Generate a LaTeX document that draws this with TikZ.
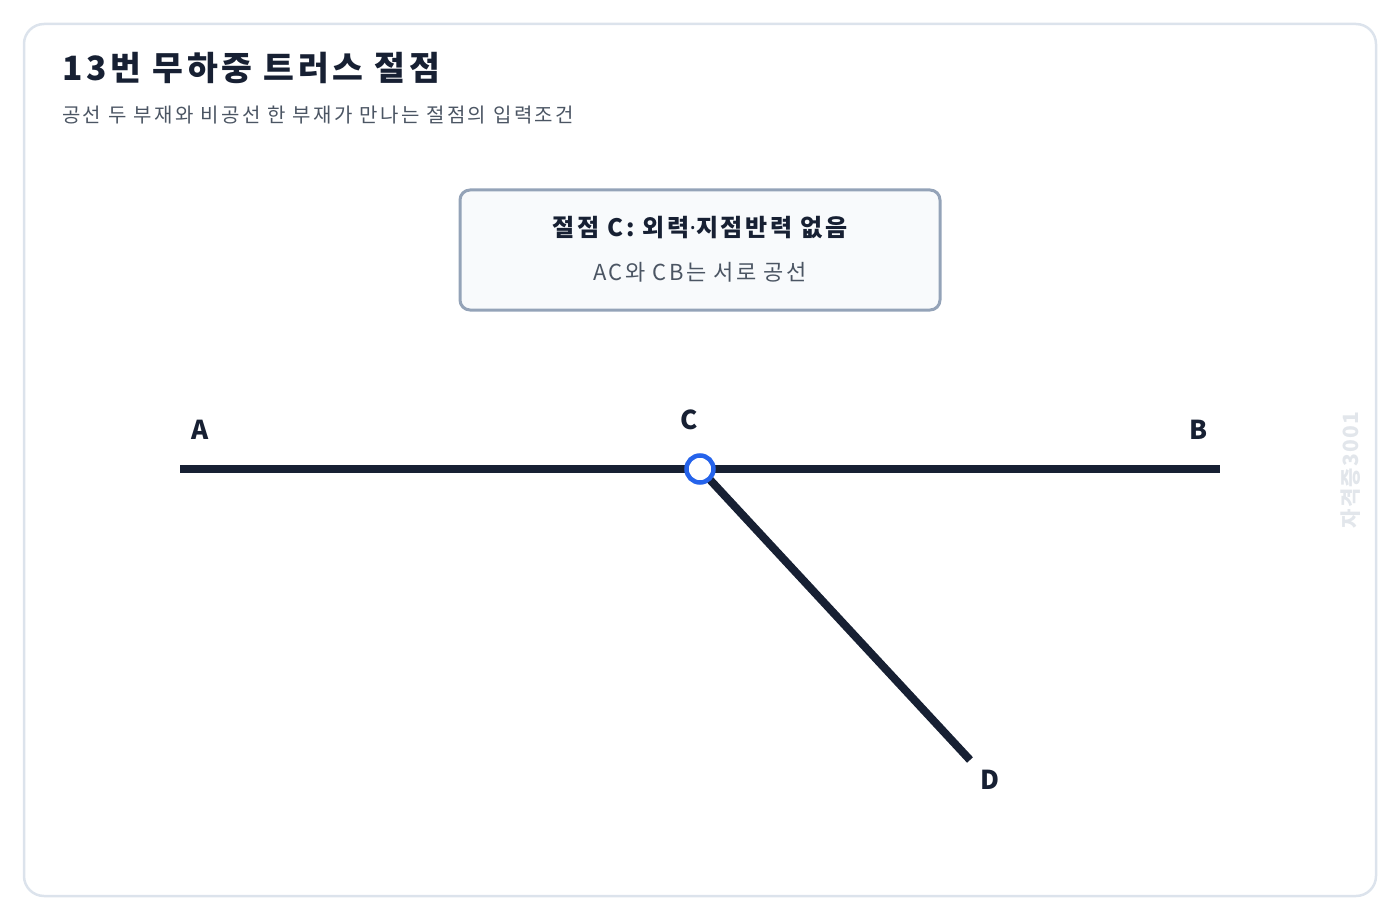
\documentclass[tikz,border=0pt]{standalone}
\usepackage{fontspec}
\setmainfont{Noto Sans CJK KR}
\newfontfamily\dotfont{Noto Sans}
\usepackage{tikz}
\usetikzlibrary{positioning}
\definecolor{ink}{HTML}{172033}
\definecolor{frame}{HTML}{DCE3EC}
\definecolor{boxline}{HTML}{94A3B8}
\definecolor{boxfill}{HTML}{F8FAFC}
\definecolor{subgray}{HTML}{4B5563}
\definecolor{nodeblue}{HTML}{2563EB}
\definecolor{mark}{HTML}{E2E6EB}
\newcommand{\wide}[1]{\addfontfeatures{LetterSpace=#1}}
\tikzset{
    truss diagram/.style={
            x=1pt,y=-1pt,
            member/.style={draw=ink,line width=8pt},
            joint/.style={circle,draw=nodeblue,fill=white,line width=4.5pt,inner sep=0pt,minimum size=27pt},
            letter/.style={font=\fontsize{26}{30}\selectfont\bfseries,text=ink}
        }
    }
\begin{document}
\begin{tikzpicture}[truss diagram]
    \useasboundingbox (0,0) rectangle (1400,920);
    \draw [frame, line width=2.5pt, rounded corners=20pt] (24,24) rectangle (1376,896);

    \node [anchor=base west, inner sep=0pt, text=ink, font=\fontsize{33.5}{38}\selectfont\bfseries\wide{11}] (title) at (62,81) {13번 무하중 트러스 절점};
    \node [anchor=base west, inner sep=0pt, text=subgray, font=\fontsize{20}{24}\selectfont\wide{12}] (sub) at (62,123) {공선 두 부재와 비공선 한 부재가 만나는 절점의 입력조건};

    \draw [boxline, fill=boxfill, line width=3pt, rounded corners=10pt] (460,190) rectangle (940,310);
    \node [text=ink, font=\fontsize{24}{28}\selectfont\bfseries\wide{11}] (cond) at (700,228) {절점 C: 외력{\dotfont\bfseries ·}지점반력 없음};
    \node [text=subgray, font=\fontsize{22}{26}\selectfont\wide{11}] (note) at (700,272) {AC와 CB는 서로 공선};

    \coordinate (A) at (180,469);
    \coordinate (B) at (1220,469);
    \coordinate (D) at (970,760);
    \coordinate (C) at (700,469);

    \draw [member] (A) -- (B);
    \draw [member] (C) -- (D);
    \node [joint] (Cj) at (C) {};

    \node [letter] (lA) at (200,430) {A};
    \node [letter] (lB) at (1199,430) {B};
    \node [letter] (lC) at (689,420) {C};
    \node [letter] (lD) at (990,780) {D};

    \node [rotate=90, text=mark, font=\fontsize{21}{25}\selectfont\bfseries\wide{6}] (wm) at (1351,470) {자격증3001};
\end{tikzpicture}
\end{document}
